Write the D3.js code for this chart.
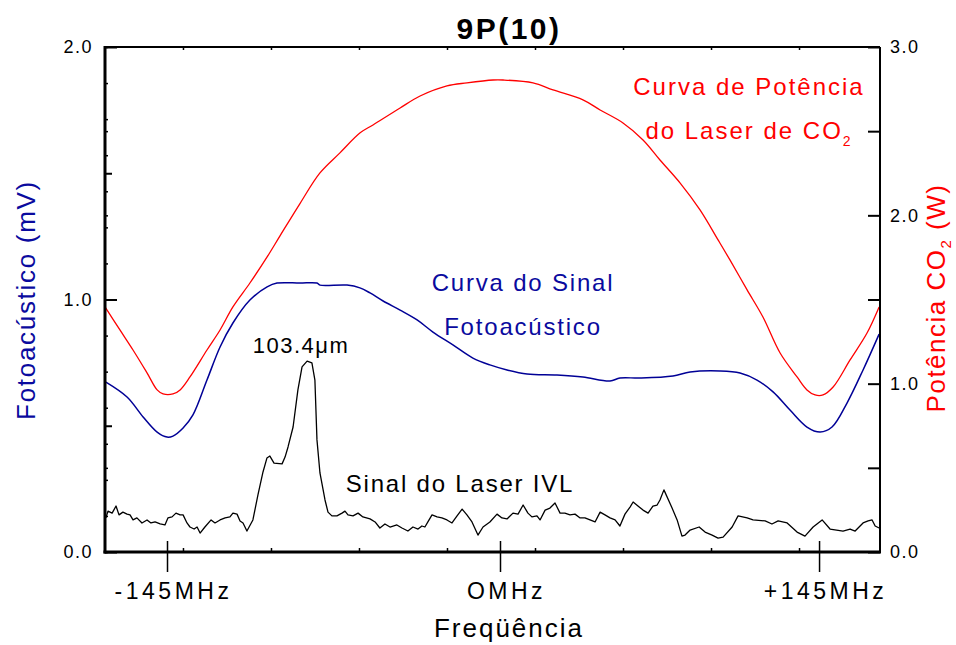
<!DOCTYPE html>
<html>
<head>
<meta charset="utf-8">
<script src="https://cdn.jsdelivr.net/npm/d3@7"></script>
<style>
  body { margin: 0; background: #fff; }
  text { font-family: "Liberation Sans", Arial, Helvetica, sans-serif; }
</style>
</head>
<body>
<svg id="chart" width="956" height="645"></svg>
<script>
// CO2 laser power versus detuning (right axis, W)
const powerMHz = [-172.0,-165.5,-159.8,-153.7,-149.3,-146.7,-142.4,-139.3,-135.0,-127.6,
  -121.9,-116.3,-108.9,-101.4,-95.8,-87.1,-78.4,-69.7,-60.9,-55.3,
  -43.5,-34.8,-23.1,-14.4,-3.0,1.4,15.0,24.1,37.7,45.5,
  55.9,65.0,72.7,81.8,90.9,99.1,104.5,112.3,119.5,127.3,
  135.0,139.5,143.2,146.8,151.4,159.1,166.8,172.3];
const powerW = [1.456,1.319,1.200,1.064,0.963,0.939,0.939,0.963,1.040,1.200,
  1.319,1.456,1.598,1.753,1.878,2.070,2.252,2.371,2.490,2.537,
  2.638,2.709,2.769,2.787,2.804,2.804,2.787,2.745,2.686,2.626,
  2.549,2.448,2.329,2.193,2.032,1.854,1.735,1.557,1.396,1.182,
  1.040,0.963,0.933,0.933,0.980,1.141,1.301,1.456];

// Photoacoustic signal (left axis, mV)
const signalMHz = [-171.6,-162.4,-155.4,-149.3,-145.0,-142.4,-138.0,-133.7,-127.6,-121.9,
  -116.3,-108.9,-101.4,-97.1,-87.1,-79.7,-78.4,-66.6,-61.0,-56.6,
  -50.9,-43.5,-36.1,-29.2,-20.5,-11.8,-4.4,3.2,12.3,25.9,
  37.7,50.0,54.5,63.6,78.6,86.4,100.0,109.1,116.8,124.1,
  131.8,139.5,145.5,150.9,157.7,165.0,172.3];
const signalMV = [0.673,0.614,0.535,0.475,0.455,0.459,0.491,0.543,0.681,0.812,
  0.907,0.998,1.050,1.065,1.065,1.065,1.057,1.057,1.046,1.026,
  0.994,0.958,0.919,0.871,0.820,0.768,0.741,0.721,0.705,0.701,
  0.693,0.677,0.689,0.689,0.697,0.713,0.717,0.709,0.681,0.634,
  0.562,0.495,0.475,0.495,0.590,0.721,0.863];

// Far-infrared (IVL) laser output, plotted on the left axis
const ivlMHz = [-171.6,-170.7,-168.9,-167.2,-165.9,-164.2,-162.4,-161.1,-159.8,-158.1,
  -155.9,-153.7,-152.0,-150.2,-148.0,-145.9,-144.6,-142.8,-141.1,-139.3,
  -138.0,-136.3,-135.0,-133.2,-131.9,-130.6,-128.5,-125.8,-124.1,-121.9,
  -119.7,-117.6,-116.3,-114.5,-113.2,-111.9,-110.2,-107.6,-105.4,-103.2,
  -101.5,-100.2,-98.4,-94.9,-93.6,-92.3,-90.1,-88.0,-86.2,-84.0,
  -81.9,-80.6,-79.7,-78.4,-76.2,-74.9,-73.2,-71.0,-68.8,-67.5,
  -66.2,-64.0,-61.8,-59.7,-56.6,-54.4,-52.3,-50.1,-47.9,-44.9,
  -42.7,-40.1,-37.9,-35.7,-34.0,-32.7,-31.4,-29.6,-27.4,-25.3,
  -23.1,-20.9,-18.7,-16.5,-14.4,-12.2,-9.6,-7.4,-4.4,-1.3,
  0.9,3.2,5.9,8.2,10.5,12.7,14.5,16.8,18.2,20.5,
  22.7,25.0,27.3,29.5,31.8,34.1,36.4,38.6,40.9,43.2,
  45.5,47.7,50.0,52.3,54.5,56.8,59.1,60.5,62.7,65.0,
  67.3,69.5,71.4,72.7,74.5,78.2,80.5,82.7,84.1,86.4,
  90.5,93.2,96.4,99.1,101.4,105.5,108.2,112.3,115.0,120.5,
  123.6,126.4,130.5,135.0,138.6,142.3,146.4,150.0,155.9,159.1,
  161.4,165.0,167.3,169.1,170.5,172.3];
const ivlMV = [0.135,0.162,0.154,0.182,0.147,0.158,0.150,0.147,0.127,0.135,
  0.115,0.127,0.115,0.119,0.111,0.107,0.135,0.139,0.154,0.147,
  0.147,0.115,0.099,0.091,0.099,0.075,0.099,0.127,0.115,0.127,
  0.135,0.139,0.154,0.150,0.123,0.115,0.083,0.127,0.226,0.317,
  0.372,0.380,0.352,0.349,0.376,0.416,0.495,0.642,0.733,0.756,
  0.749,0.681,0.444,0.313,0.206,0.158,0.143,0.143,0.154,0.162,
  0.147,0.143,0.154,0.139,0.131,0.119,0.095,0.111,0.099,0.107,
  0.095,0.083,0.099,0.091,0.103,0.099,0.119,0.147,0.139,0.135,
  0.127,0.115,0.143,0.170,0.147,0.119,0.067,0.099,0.119,0.150,
  0.135,0.131,0.154,0.150,0.186,0.154,0.139,0.143,0.127,0.166,
  0.174,0.194,0.154,0.154,0.147,0.150,0.135,0.135,0.127,0.119,
  0.158,0.147,0.135,0.127,0.103,0.150,0.178,0.198,0.182,0.166,
  0.154,0.182,0.186,0.206,0.246,0.174,0.127,0.063,0.067,0.087,
  0.099,0.079,0.067,0.055,0.059,0.099,0.143,0.135,0.127,0.123,
  0.111,0.123,0.115,0.079,0.063,0.099,0.127,0.091,0.083,0.091,
  0.083,0.115,0.123,0.127,0.103,0.095];

// Axis ticks and labels
const freqTicks = [-145, 0, 145];
const freqLabels = ["-145MHz", "OMHz", "+145MHz"];
const freqExtent = [-172.0, 172.7];
const leftMajor = [0, 1, 2];
const leftMid = [0.5, 1.5];
const leftFine = d3.range(15).map(i => i * 2 / 14);
const rightTicks = [0, 0.5, 1, 1.5, 2, 2.5, 3];
const rightMirror = [0.5, 2, 2.5];
const sweepTicks = d3.range(8);
const sweepExtent = [-0.886, 7.92];

const plot = { left: 105, right: 880, top: 47, bottom: 552, zero: 500 };
const RED = "#ff0000", BLUE = "#000096", BLUE_TEXT = "#0a0a9e";

const svg = d3.select("#chart");

const x = d3.scaleLinear()
  .domain([freqExtent[0], 0, freqExtent[1]])
  .range([plot.left, plot.zero, plot.right]);
const sweep = d3.scaleLinear().domain(sweepExtent).range([plot.left, plot.right]);
const yL = d3.scaleLinear().domain([0, 2]).range([plot.bottom, plot.top]);
const yR = d3.scaleLinear().domain([0, 3]).range([plot.bottom, plot.top]);

// ---- curves ----
const toPts = (xs, ys) => xs.map((v, i) => [v, ys[i]]);

svg.append("path")
  .datum(toPts(powerMHz, powerW))
  .attr("fill", "none").attr("stroke", RED).attr("stroke-width", 1.3)
  .attr("d", d3.line().x(d => x(d[0])).y(d => yR(d[1])).curve(d3.curveCatmullRom.alpha(0.5)));

svg.append("path")
  .datum(toPts(signalMHz, signalMV))
  .attr("fill", "none").attr("stroke", BLUE).attr("stroke-width", 1.5)
  .attr("d", d3.line().x(d => x(d[0])).y(d => yL(d[1])).curve(d3.curveCatmullRom.alpha(0.5)));

svg.append("path")
  .datum(toPts(ivlMHz, ivlMV))
  .attr("fill", "none").attr("stroke", "#000").attr("stroke-width", 1.3)
  .attr("stroke-linejoin", "round")
  .attr("d", d3.line().x(d => x(d[0])).y(d => yL(d[1])));

// ---- frame ----
const frame = svg.append("g").attr("stroke", "#000").attr("fill", "none");
frame.append("line").attr("x1", plot.left).attr("x2", plot.right)
  .attr("y1", plot.top).attr("y2", plot.top).attr("stroke-width", 2);
frame.append("line").attr("x1", plot.right).attr("x2", plot.right)
  .attr("y1", plot.top).attr("y2", plot.bottom).attr("stroke-width", 2);
frame.append("line").attr("x1", plot.left).attr("x2", plot.left)
  .attr("y1", plot.top - 1).attr("y2", plot.bottom + 1.5).attr("stroke-width", 3);
frame.append("line").attr("x1", plot.left - 1.5).attr("x2", plot.right + 1)
  .attr("y1", plot.bottom).attr("y2", plot.bottom).attr("stroke-width", 3);

function styleAxis(g, width) {
  g.select(".domain").remove();
  g.selectAll(".tick line").attr("stroke", "#000").attr("stroke-width", width);
  g.selectAll(".tick text").attr("fill", "#000");
}

// left axis (mV)
svg.append("g").attr("transform", `translate(${plot.left},0)`)
  .call(d3.axisLeft(yL).tickValues(leftMajor).tickSize(-12).tickPadding(12).tickFormat(d3.format(".1f")))
  .call(g => styleAxis(g, 2))
  .call(g => g.selectAll(".tick text").style("font-size", "18px").style("letter-spacing", "1.5px"));
svg.append("g").attr("transform", `translate(${plot.left},0)`)
  .call(d3.axisLeft(yL).tickValues(leftMid).tickSize(-7).tickFormat(""))
  .call(g => styleAxis(g, 2));
svg.append("g").attr("transform", `translate(${plot.left},0)`)
  .call(d3.axisLeft(yL).tickValues(leftFine).tickSize(-3).tickFormat(""))
  .call(g => styleAxis(g, 1.5));
svg.append("g").attr("transform", `translate(${plot.left},0)`)
  .call(d3.axisLeft(yR).tickValues(rightMirror).tickSize(-3).tickFormat(""))
  .call(g => styleAxis(g, 1.5));

// right axis (W)
svg.append("g").attr("transform", `translate(${plot.right},0)`)
  .call(d3.axisRight(yR).tickValues(rightTicks).tickSize(-12).tickPadding(10)
    .tickFormat(d => Number.isInteger(d) ? d3.format(".1f")(d) : ""))
  .call(g => styleAxis(g, 2))
  .call(g => g.selectAll(".tick text").style("font-size", "18px").style("letter-spacing", "1.5px"));

// fine sweep ticks along top and bottom edges
svg.append("g").attr("transform", `translate(0,${plot.top})`)
  .call(d3.axisTop(sweep).tickValues(sweepTicks).tickSize(-3).tickFormat(""))
  .call(g => styleAxis(g, 1.5));
svg.append("g").attr("transform", `translate(0,${plot.bottom})`)
  .call(d3.axisBottom(sweep).tickValues(sweepTicks).tickSize(-4).tickFormat(""))
  .call(g => styleAxis(g, 1.5));

// frequency markers crossing the bottom edge
svg.append("g").attr("transform", `translate(0,${plot.bottom})`)
  .call(d3.axisBottom(x).tickValues(freqTicks).tickSize(20).tickPadding(11)
    .tickFormat((d, i) => freqLabels[i]))
  .call(g => styleAxis(g, 1.5))
  .call(g => g.selectAll(".tick line").attr("y1", -11))
  .call(g => g.selectAll(".tick text").style("font-size", "23px")
    .style("letter-spacing", "3.5px").attr("dx", 6));

// ---- titles and annotations ----
function label(txt, xPos, yPos, opts = {}) {
  return svg.append("text")
    .attr("x", xPos).attr("y", yPos)
    .attr("text-anchor", opts.anchor || "middle")
    .attr("fill", opts.color || "#000")
    .style("font-size", (opts.size || 24) + "px")
    .style("font-weight", opts.weight || "normal")
    .style("letter-spacing", (opts.spacing != null ? opts.spacing : 1.5) + "px")
    .text(txt);
}

label("9P(10)", 509, 39, { size: 30, weight: "bold", spacing: 2.5 });
label("Freqüência", 509, 637, { size: 26, spacing: 2 });

svg.append("text")
  .attr("transform", `translate(35,300) rotate(-90)`)
  .attr("text-anchor", "middle").attr("fill", BLUE_TEXT)
  .style("font-size", "26px").style("letter-spacing", "1.7px")
  .text("Fotoacústico (mV)");

const rightTitle = svg.append("text")
  .attr("transform", `translate(945,298) rotate(-90)`)
  .attr("text-anchor", "middle").attr("fill", RED)
  .style("font-size", "26px").style("letter-spacing", "1.5px");
rightTitle.append("tspan").text("Potência CO");
rightTitle.append("tspan").attr("dy", 6).style("font-size", "15px").text("2");
rightTitle.append("tspan").attr("dy", -6).text(" (W)");

label("Curva de Potência", 749, 95, { color: RED, size: 24, spacing: 2 });
const co2 = svg.append("text")
  .attr("x", 749).attr("y", 139).attr("text-anchor", "middle").attr("fill", RED)
  .style("font-size", "24px").style("letter-spacing", "2px");
co2.append("tspan").text("do Laser de CO");
co2.append("tspan").attr("dy", 7).style("font-size", "14px").text("2");

label("Curva do Sinal", 523, 291, { color: BLUE_TEXT, size: 24, spacing: 1.8 });
label("Fotoacústico", 523, 335, { color: BLUE_TEXT, size: 24, spacing: 1.8 });
label("103.4μm", 301, 353, { size: 22, spacing: 1.5 });
label("Sinal do Laser IVL", 460, 492, { size: 24, spacing: 1.8 });
</script>
</body>
</html>
